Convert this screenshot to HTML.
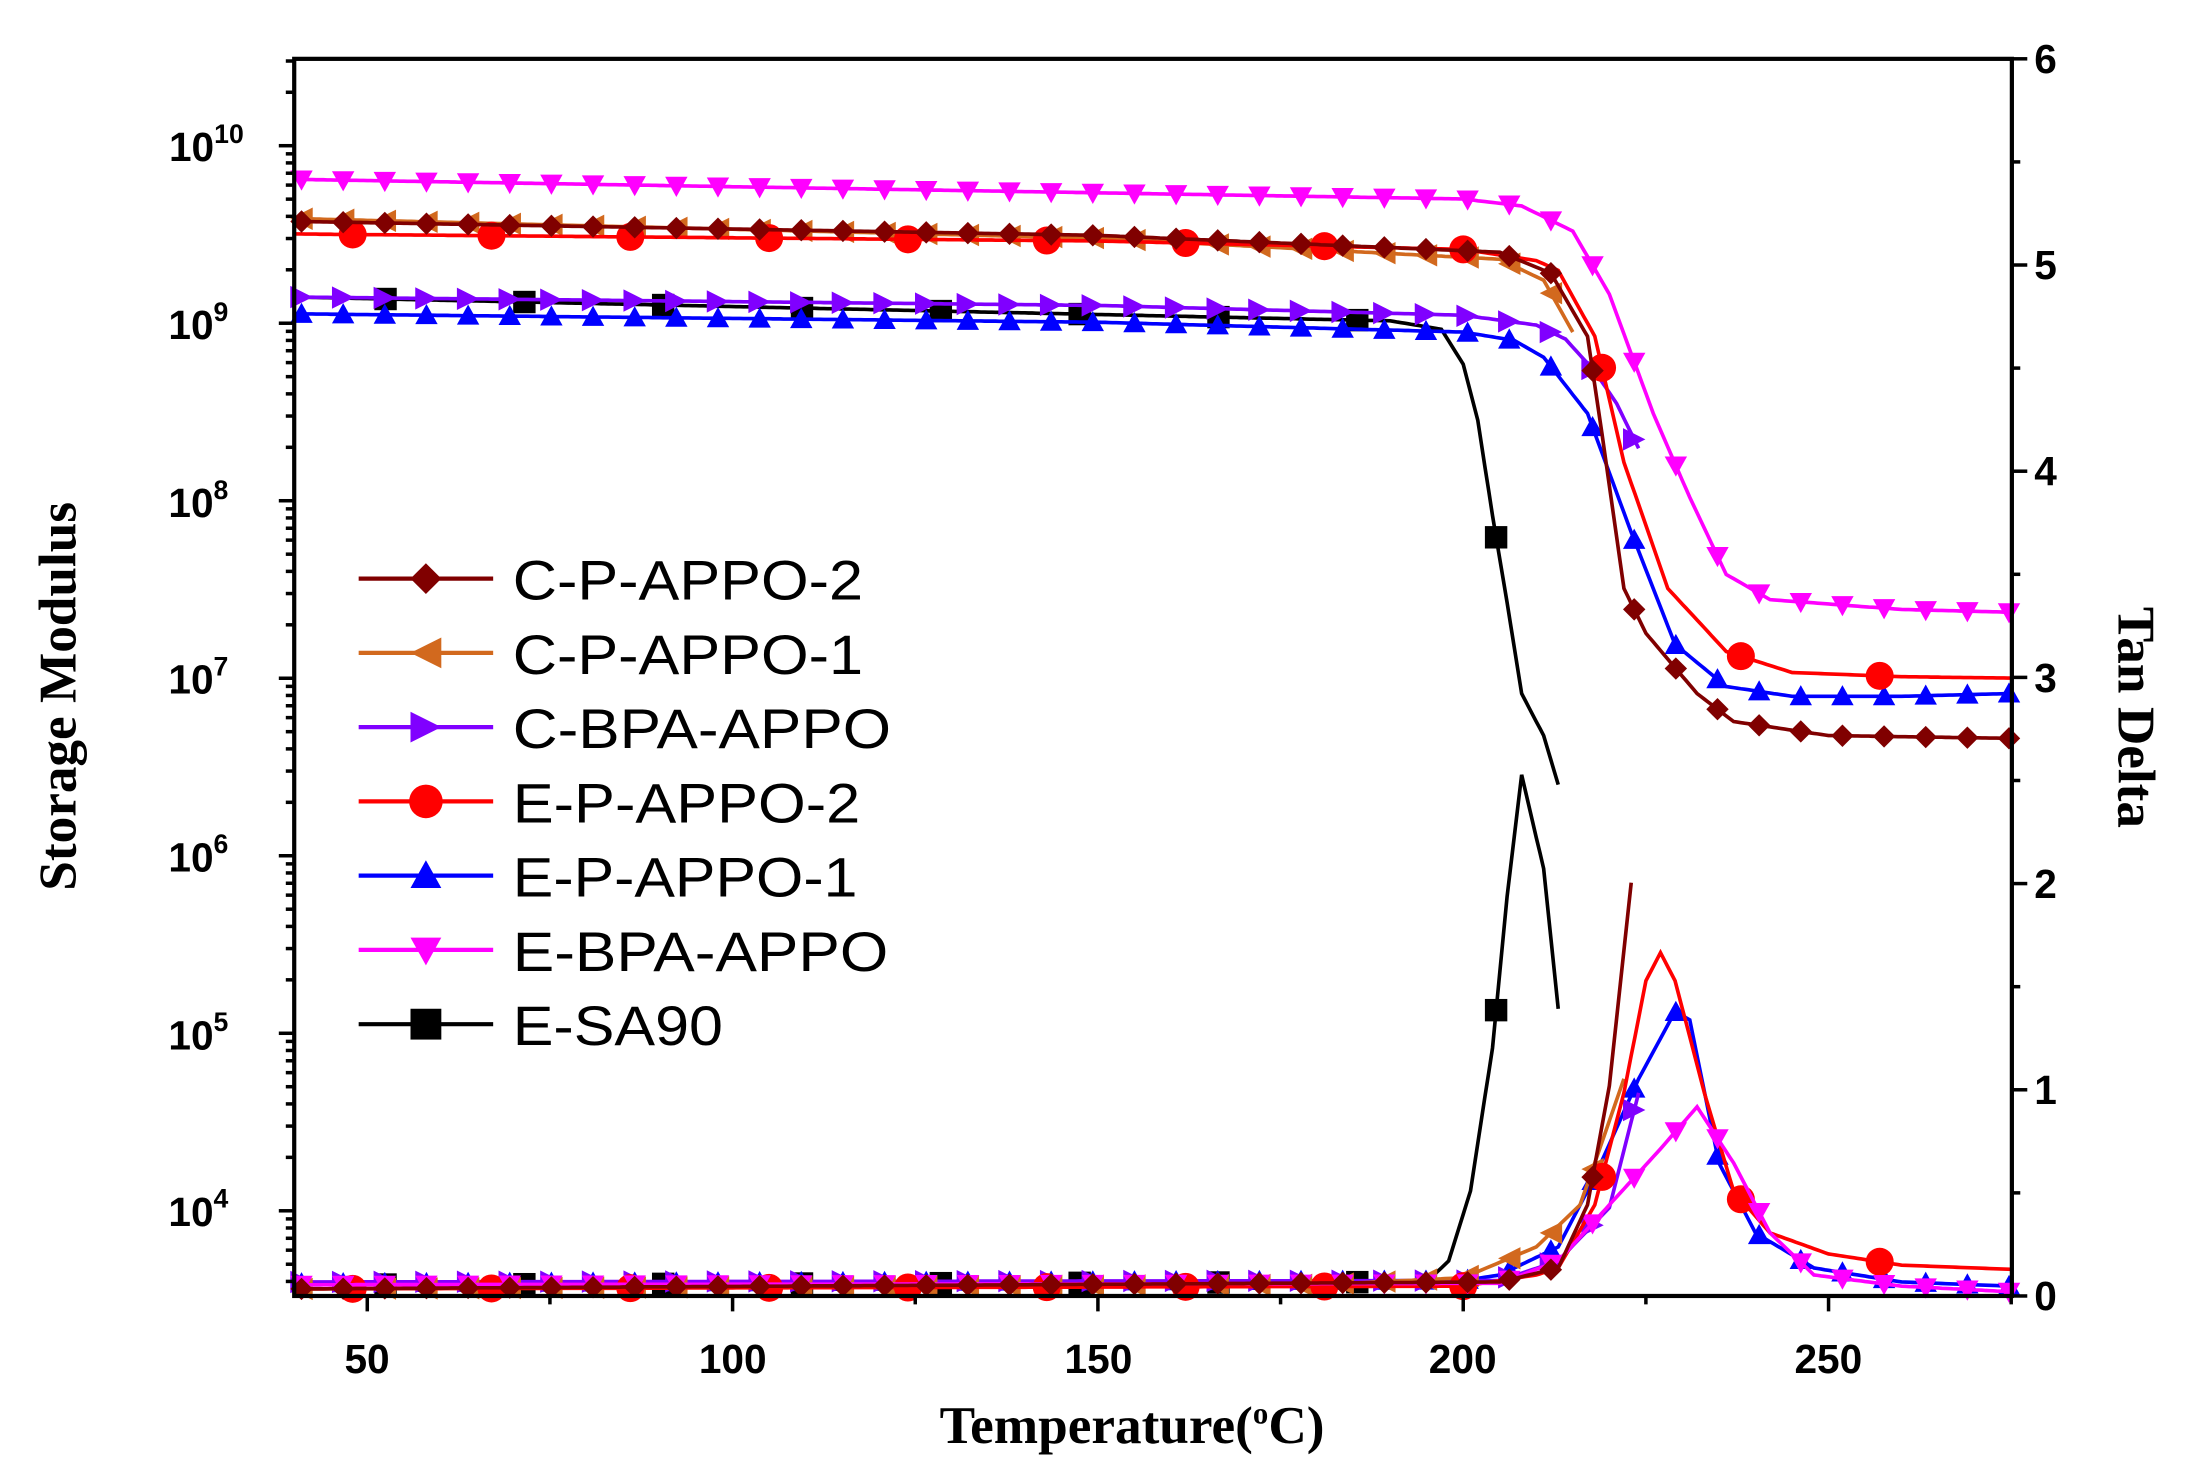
<!DOCTYPE html>
<html><head><meta charset="utf-8">
<style>html,body{margin:0;padding:0;background:#fff}svg{display:block}</style>
</head><body>
<svg id="s" xmlns="http://www.w3.org/2000/svg" width="2187" height="1469" viewBox="0 0 1561 1048.5" preserveAspectRatio="none">
<rect width="1561" height="1048.5" fill="#fff"/>
<g id="data"></g>
<rect x="210" y="42" width="1226" height="883" fill="none" stroke="#000" stroke-width="3"/>
<g id="ticks" stroke="#000" stroke-width="2.5"></g>
<g font-family="Liberation Sans, Arial, sans-serif" font-weight="bold" font-size="29" fill="#000">
<g text-anchor="middle">
<text x="262" y="980">50</text><text x="523" y="980">100</text><text x="784" y="980">150</text><text x="1044" y="980">200</text><text x="1305" y="980">250</text>
</g>
<g text-anchor="start">
<text x="1452" y="52">6</text><text x="1452" y="199">5</text><text x="1452" y="346">4</text><text x="1452" y="494">3</text><text x="1452" y="641">2</text><text x="1452" y="788">1</text><text x="1452" y="935">0</text>
</g>
<g text-anchor="end">
<text x="174" y="115">10<tspan font-size="19" dy="-13">10</tspan></text>
<text x="163" y="242">10<tspan font-size="19" dy="-13">9</tspan></text>
<text x="163" y="369">10<tspan font-size="19" dy="-13">8</tspan></text>
<text x="163" y="495">10<tspan font-size="19" dy="-13">7</tspan></text>
<text x="163" y="622">10<tspan font-size="19" dy="-13">6</tspan></text>
<text x="163" y="749">10<tspan font-size="19" dy="-13">5</tspan></text>
<text x="163" y="875">10<tspan font-size="19" dy="-13">4</tspan></text>
</g>
</g>
<g font-family="Liberation Serif, serif" font-weight="bold" fill="#000">
<text x="808" y="1030" text-anchor="middle" font-size="38">Temperature(<tspan font-size="22" dy="-14">o</tspan><tspan dy="14">C)</tspan></text>
<text transform="translate(54,497) rotate(-90)" text-anchor="middle" font-size="38">Storage Modulus</text>
<text transform="translate(1512,512) rotate(90)" text-anchor="middle" font-size="38">Tan Delta</text>
</g>
<g id="legend"></g>
<g font-family="Liberation Sans, Arial, sans-serif" font-size="40" fill="#000" textLength="0">
<text x="366" y="428" textLength="250" lengthAdjust="spacingAndGlyphs">C-P-APPO-2</text>
<text x="366" y="481" textLength="250" lengthAdjust="spacingAndGlyphs">C-P-APPO-1</text>
<text x="366" y="534" textLength="270" lengthAdjust="spacingAndGlyphs">C-BPA-APPO</text>
<text x="366" y="587" textLength="248" lengthAdjust="spacingAndGlyphs">E-P-APPO-2</text>
<text x="366" y="640" textLength="246" lengthAdjust="spacingAndGlyphs">E-P-APPO-1</text>
<text x="366" y="693" textLength="268" lengthAdjust="spacingAndGlyphs">E-BPA-APPO</text>
<text x="366" y="746" textLength="150" lengthAdjust="spacingAndGlyphs">E-SA90</text>
</g>
</svg>
<script>
var NS="http://www.w3.org/2000/svg";
function X(t){return 210+(t-40)*5.215;}
function el(p,n,a){var e=document.createElementNS(NS,n);for(var k in a)e.setAttribute(k,a[k]);p.appendChild(e);return e;}
function interp(pts,t){for(var i=0;i<pts.length-1;i++){if(t>=pts[i][0]&&t<=pts[i+1][0]){var f=(t-pts[i][0])/(pts[i+1][0]-pts[i][0]);return pts[i][1]+f*(pts[i+1][1]-pts[i][1]);}}return null;}
function marker(g,type,x,y,c,s){
 s=s||9;
 if(type=='d')el(g,'polygon',{points:(x)+','+(y-s)+' '+(x+s)+','+y+' '+x+','+(y+s)+' '+(x-s)+','+y,fill:c});
 else if(type=='l')el(g,'polygon',{points:(x-s)+','+y+' '+(x+s)+','+(y-s)+' '+(x+s)+','+(y+s),fill:c});
 else if(type=='r')el(g,'polygon',{points:(x+s)+','+y+' '+(x-s)+','+(y-s)+' '+(x-s)+','+(y+s),fill:c});
 else if(type=='o')el(g,'circle',{cx:x,cy:y,r:s+1,fill:c});
 else if(type=='u')el(g,'polygon',{points:x+','+(y-s)+' '+(x+s)+','+(y+s*0.8)+' '+(x-s)+','+(y+s*0.8),fill:c});
 else if(type=='v')el(g,'polygon',{points:x+','+(y+s)+' '+(x+s)+','+(y-s*0.8)+' '+(x-s)+','+(y-s*0.8),fill:c});
 else if(type=='s')el(g,'rect',{x:x-s,y:y-s,width:2*s,height:2*s,fill:c});
}
var series=[
 {c:'#000000',m:'s',step:19,off:12.5,mod:[[40,212],[190,229],[197,235],[200,260],[202,300],[204,368],[206,430],[208,495],[211,525],[213,560]],
  tan:[[40,917],[195,915],[198,900],[201,850],[204,748],[206,640],[208,553],[211,620],[213,720]]},
 {c:'#0000ff',m:'u',step:5.7,mod:[[40,224],[150,230],[200,237],[207,243],[211,255],[217,295],[223,380],[229,460],[236,490],[245,497],[260,497],[275,495]],
  tan:[[40,916],[200,914],[205,910],[213,890],[218,840],[224,770],[229,722],[231,728],[235,830],[240,880],[248,905],[260,915],[275,918]]},
 {c:'#8000ff',m:'r',step:5.7,mod:[[40,212],[150,218],[200,225],[210,232],[214,242],[218,265],[221,288],[224,320]],
  tan:[[40,915],[205,914],[213,900],[220,862],[224,780]]},
 {c:'#d2691e',m:'l',step:5.7,mod:[[40,156],[150,170],[205,185],[211,200],[215,237]],
  tan:[[40,920],[180,917],[200,912],[210,890],[216,860],[220,800],[222,770]]},
 {c:'#ff0000',m:'o',step:19,off:8,mod:[[40,167],[150,172],[200,178],[210,186],[213,193],[218,240],[222,330],[228,420],[236,465],[245,480],[260,483],[275,484]],
  tan:[[40,920],[200,918],[210,910],[213,905],[218,860],[222,780],[225,700],[227,680],[229,700],[233,780],[237,850],[242,880],[250,895],[260,903],[275,906]]},
 {c:'#ff00ff',m:'v',step:5.7,mod:[[40,128],[200,142],[208,147],[215,165],[220,210],[226,295],[231,355],[236,410],[242,428],[260,435],[275,437]],
  tan:[[40,917],[205,916],[213,900],[220,860],[227,820],[232,790],[237,830],[242,880],[248,910],[260,918],[275,922]]},
 {c:'#800000',m:'d',step:5.7,mod:[[40,158],[150,168],[205,180],[212,195],[217,240],[219,310],[222,420],[225,452],[232,495],[237,515],[250,525],[275,527]],
  tan:[[40,920],[205,915],[213,905],[217,860],[220,775],[223,630]]}
];
var g=document.getElementById('data');
series.forEach(function(s){
 [s.mod,s.tan].forEach(function(pts){
  var d='';for(var t=pts[0][0];t<=pts[pts.length-1][0]+0.01;t+=0.5){var y=interp(pts,Math.min(t,pts[pts.length-1][0]));d+=(d?'L':'M')+X(t).toFixed(1)+','+y.toFixed(1);}
  el(g,'path',{d:d,fill:'none',stroke:s.c,'stroke-width':2.6});
  var t0=pts[0][0]+(s.off||1);
  for(var t=t0;t<=pts[pts.length-1][0]+0.01;t+=s.step){var y=interp(pts,t);if(y!=null)marker(g,s.m,X(t),y,s.c,s.m=='o'?9:8);}
 });
});
var tk=document.getElementById('ticks');
for(var t=50;t<=250;t+=50)el(tk,'line',{x1:X(t),y1:925,x2:X(t),y2:936});
for(var t=75;t<=275;t+=50)el(tk,'line',{x1:X(t),y1:925,x2:X(t),y2:931});
for(var v=0;v<=6;v+=0.5){var y=925-v*147.17;el(tk,'line',{x1:1436,y1:y,x2:v%1==0?1447:1442,y2:y});}
for(var dec=3;dec<=10;dec++){for(var k=1;k<10;k++){var lv=dec+Math.log10(k);var y=104+(10-lv)*126.7;if(y<42||y>925)continue;el(tk,'line',{x1:210,y1:y,x2:k==1?199:204,y2:y});}}
var lg=document.getElementById('legend');
var leg=[['#800000','d'],['#d2691e','l'],['#8000ff','r'],['#ff0000','o'],['#0000ff','u'],['#ff00ff','v'],['#000000','s']];
leg.forEach(function(l,i){var y=413+i*53;el(lg,'line',{x1:256,y1:y,x2:352,y2:y,stroke:l[0],'stroke-width':3});marker(lg,l[1],304,y,l[0],11);});
</script>
</body></html>
